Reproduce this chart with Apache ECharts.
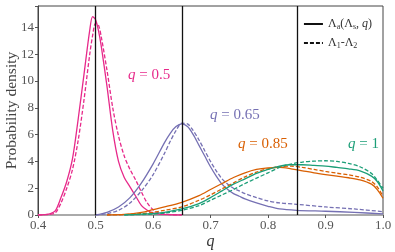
<!DOCTYPE html>
<html><head><meta charset="utf-8">
<script src="https://cdn.jsdelivr.net/npm/echarts@6/dist/echarts.min.js"></script>
<style>html,body{margin:0;padding:0;background:#fff}#c{width:395px;height:252px}</style>
</head><body><div id="c"></div>
<script>
// ---- data ----
const xTicks = [0.4, 0.5, 0.6, 0.7, 0.8, 0.9, 1.0];
const yTicks = [0, 2, 4, 6, 8, 10, 12, 14];
const refLines = [0.5, 0.65, 0.85];

const q05_x = [0.40,0.41,0.42,0.43,0.44,0.45,0.46,0.47,0.48,0.49,0.495,0.50,0.505,0.51,0.52,0.53,0.54,0.55,0.56,0.57,0.58,0.59,0.60,0.61,0.63,0.65];
const q05_solid = [0,0.02,0.08,0.3,1.3,2.5,4.2,7.2,10.5,13.8,14.8,14.6,13.8,12.6,9.6,6.3,4.0,2.8,2.1,1.4,0.7,0.35,0.15,0.06,0.02,0];
const q05_dash  = [0,0.02,0.05,0.15,0.9,2.0,3.4,5.6,8.6,12.0,13.4,14.3,14.2,13.3,10.8,8.0,5.9,4.4,3.4,2.6,1.7,0.9,0.4,0.15,0.03,0];

const q065_x = [0.50,0.52,0.54,0.56,0.58,0.60,0.62,0.63,0.64,0.65,0.66,0.67,0.68,0.69,0.70,0.71,0.72,0.73,0.74,0.75,0.76,0.78,0.80,0.82,0.85,0.90,0.95,1.00];
const q065_solid = [0,0.2,0.6,1.3,2.4,3.8,5.4,6.1,6.6,6.8,6.6,6.0,5.2,4.4,3.6,2.9,2.3,1.9,1.6,1.4,1.2,0.9,0.65,0.45,0.35,0.28,0.2,0.08];
const q065_dash  = [0,0.1,0.35,0.9,1.8,3.0,4.6,5.5,6.3,6.85,6.8,6.3,5.6,4.8,4.0,3.3,2.7,2.3,2.0,1.8,1.6,1.3,1.05,0.9,0.8,0.6,0.45,0.25];

const q085_x = [0.52,0.55,0.58,0.60,0.62,0.65,0.68,0.70,0.72,0.74,0.76,0.78,0.80,0.82,0.84,0.86,0.88,0.90,0.92,0.94,0.96,0.98,0.99,1.00];
const q085_solid = [0,0.05,0.2,0.4,0.6,0.95,1.45,1.9,2.35,2.8,3.15,3.4,3.52,3.55,3.45,3.3,3.15,3.02,2.9,2.78,2.62,2.3,1.9,1.25];
const q085_dash  = [0,0.03,0.1,0.2,0.35,0.6,1.1,1.5,1.95,2.4,2.85,3.2,3.45,3.6,3.65,3.55,3.4,3.25,3.12,3.0,2.82,2.5,2.1,1.4];

const q1_x = [0.55,0.60,0.62,0.65,0.68,0.70,0.72,0.74,0.76,0.78,0.80,0.82,0.84,0.86,0.88,0.90,0.92,0.94,0.96,0.98,0.99,1.00];
const q1_solid = [0,0.1,0.2,0.45,0.85,1.3,1.8,2.3,2.7,3.1,3.4,3.65,3.75,3.75,3.7,3.65,3.55,3.45,3.3,2.9,2.5,1.8];
const q1_dash  = [0,0.07,0.15,0.35,0.7,1.1,1.5,1.9,2.35,2.75,3.15,3.55,3.8,3.95,4.02,4.05,4.0,3.85,3.6,3.1,2.6,2.0];

const colors = {q05:'#e7298a', q065:'#7570b3', q085:'#d95f02', q1:'#1b9e77'};
const legendNames = ['Λa(Λs, q)', 'Λ1-Λ2'];

// ---- chart ----
const zip = (xs, ys) => xs.map((x, i) => [x, ys[i]]);
const serif = '"Liberation Serif", "DejaVu Serif", serif';
function curve(xs, ys, color, dashed) {
  return {type:'line', data: zip(xs, ys), smooth: 0.3, showSymbol:false, symbol:'none', silent:true,
    lineStyle:{color, width:1.3, type: dashed ? [4,2] : 'solid'}, z: 3};
}
const series = [
  curve(q05_x, q05_solid, colors.q05, false), curve(q05_x, q05_dash, colors.q05, true),
  curve(q065_x, q065_solid, colors.q065, false), curve(q065_x, q065_dash, colors.q065, true),
  curve(q085_x, q085_solid, colors.q085, false), curve(q085_x, q085_dash, colors.q085, true),
  curve(q1_x, q1_solid, colors.q1, false), curve(q1_x, q1_dash, colors.q1, true),
  {type:'line', data:[], silent:true,
    markLine:{silent:true, symbol:'none', label:{show:false},
      lineStyle:{color:'#111', width:1.3, type:'solid'},
      data: refLines.map(v => ({xAxis: v}))}, z: 4},
  {name: legendNames[0], type:'line', data:[], symbol:'none', lineStyle:{color:'#111', width:1.5, type:'solid'}, itemStyle:{color:'#111'}},
  {name: legendNames[1], type:'line', data:[], symbol:'none', lineStyle:{color:'#111', width:1.5, type:[4,2]}, itemStyle:{color:'#111'}}
];

const chart = echarts.init(document.getElementById('c'), null, {renderer:'canvas'});
function qLabel(txt, color, left, top) {
  return {type:'text', left, top, style:{text:'{i|q}{n| = ' + txt + '}', rich:{
    i:{fontFamily:serif, fontStyle:'italic', fontSize:15, fill:color},
    n:{fontFamily:serif, fontSize:15, fill:color}}}};
}
chart.setOption({
  animation:false,
  grid:{left:38, right:12, top:6, bottom:37, show:true, borderColor:'#444', borderWidth:1,
    containLabel:false, outerBoundsMode:'none'},
  xAxis:{type:'value', min:0.4, max:1.0, interval:0.1,
    name:'q', nameLocation:'middle', nameGap:19, nameMoveOverlap:false,
    nameTextStyle:{fontFamily:serif, fontStyle:'italic', fontSize:16, color:'#333', verticalAlign:'top'},
    axisLine:{show:true, onZero:false, lineStyle:{color:'#aaa', width:2}},
    axisTick:{show:true, length:3, lineStyle:{color:'#555'}},
    splitLine:{show:false},
    axisLabel:{fontFamily:serif, fontSize:13, color:'#555', margin:4,
      formatter: v => xTicks.some(t => Math.abs(t - v) < 1e-6) ? v.toFixed(1) : ''}},
  yAxis:{type:'value', min:0, max:15.6, interval:2,
    name:'Probability density', nameLocation:'middle', nameGap:34, nameMoveOverlap:false,
    nameTextStyle:{fontFamily:serif, fontSize:15.5, color:'#444', verticalAlign:'top'},
    axisLine:{show:true, lineStyle:{color:'#444'}},
    axisTick:{show:true, length:3, lineStyle:{color:'#555'}},
    splitLine:{show:false},
    axisLabel:{fontFamily:serif, fontSize:13, color:'#555', margin:4,
      formatter: v => yTicks.includes(v) ? String(v) : ''}},
  legend:{data: legendNames, right:18, top:13, orient:'vertical', itemWidth:19, itemHeight:10, itemGap:6,
    itemStyle:{color:'rgba(0,0,0,0)', borderWidth:0, opacity:0},
    formatter: name => name === legendNames[0]
      ? '{n|Λ}{s|a}{n|(Λ}{s|s}{n|, }{i|q}{n|)}'
      : '{n|Λ}{s|1}{n|-Λ}{s|2}',
    textStyle:{fontFamily:serif, fontSize:12, color:'#333', rich:{
      n:{fontFamily:serif, fontSize:12, color:'#333', lineHeight:14, verticalAlign:'middle'},
      i:{fontFamily:serif, fontStyle:'italic', fontSize:12, color:'#333', lineHeight:14},
      s:{fontFamily:serif, fontSize:8, color:'#333', lineHeight:14, verticalAlign:'bottom'}}}},
  graphic:[
    qLabel('0.5', colors.q05, 128, 68),
    qLabel('0.65', colors.q065, 210, 108),
    qLabel('0.85', colors.q085, 238, 137),
    {type:'text', left:348, top:137, style:{text:'{i|q}{n| = 1}', rich:{
      i:{fontFamily:serif, fontStyle:'italic', fontSize:15, fill:colors.q1},
      n:{fontFamily:serif, fontSize:15, fill:colors.q1}}}}
  ],
  series
});
</script></body></html>
